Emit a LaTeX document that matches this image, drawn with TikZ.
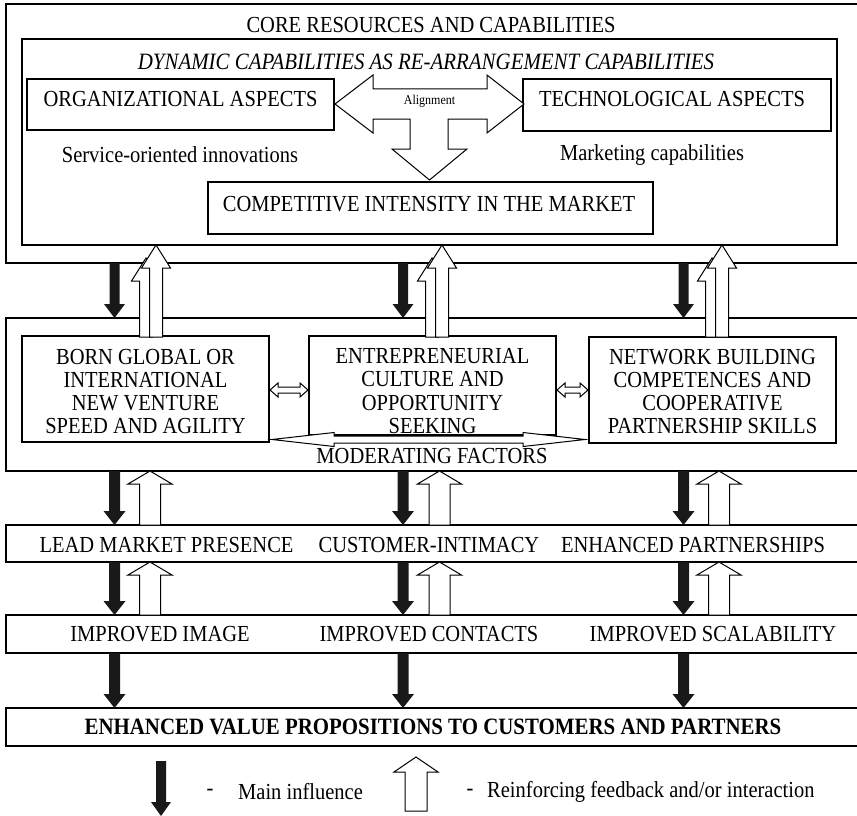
\documentclass[tikz,border=0pt]{standalone}
\usepackage{graphicx}
\usepackage{fontspec}
\setmainfont{Liberation Serif}
\newcommand\tl[1]{\scalebox{1}[1.12]{#1}}
% hollow vertical arrow pointing up: x, ytip, yheadbase, ybottom, shaft half, head half
\newcommand\hollowup[6]{%
  \filldraw[hollow] (#1-#5,#4) -- (#1-#5,#3) -- (#1-#6,#3) -- (#1,#2) -- (#1+#6,#3) -- (#1+#5,#3) -- (#1+#5,#4) -- cycle;}
% solid vertical arrow pointing down: x, ytop, yheadbase, ytip, shaft half, head half
\newcommand\soliddown[6]{%
  \fill[solid] (#1-#5,#2) -- (#1-#5,#3) -- (#1-#6,#3) -- (#1,#4) -- (#1+#6,#3) -- (#1+#5,#3) -- (#1+#5,#2) -- cycle;}
% hollow horizontal double arrow: xleft, xright, y, head length, head half, shaft half
\newcommand\hollowdbl[6]{%
  \filldraw[hollow] (#1,#3) -- (#1+#4,#3-#5) -- (#1+#4,#3-#6) -- (#2-#4,#3-#6) -- (#2-#4,#3-#5) -- (#2,#3) -- (#2-#4,#3+#5) -- (#2-#4,#3+#6) -- (#1+#4,#3+#6) -- (#1+#4,#3+#5) -- cycle;}
\begin{document}
\begin{tikzpicture}[x=1pt,y=-1pt,
  box/.style={draw=black, line width=1.1pt},
  hollow/.style={draw=black, fill=white, line width=1pt, line join=miter},
  solid/.style={fill=black!90},
  txt/.style={font=\fontsize{20.5}{23.3}\selectfont, inner sep=0pt, align=center},
  small/.style={font=\fontsize{12}{14}\selectfont, inner sep=0pt},
 ]
\useasboundingbox (0,0) rectangle (857,816);
\clip (0,0) rectangle (857,816);

% ---------- top block ----------
\draw[box] (6,4) rectangle (880,263);
\node[txt] (core) at (431,25) {\tl{CORE RESOURCES AND CAPABILITIES}};
\draw[box] (22,39) rectangle (837,245);
\node[txt, font=\fontsize{20.9}{23.3}\selectfont\itshape] (dyn) at (426,62) {\tl{DYNAMIC CAPABILITIES AS RE-ARRANGEMENT CAPABILITIES}};
\draw[box] (27,79) rectangle (334,130);
\node[txt] (org) at (180.5,99) {\tl{ORGANIZATIONAL ASPECTS}};
\draw[box] (523,79) rectangle (831,131);
\node[txt] (tech) at (672,99) {\tl{TECHNOLOGICAL ASPECTS}};
% alignment T-arrow
\filldraw[hollow] (335,104) -- (373,75) -- (373,89) -- (487,89) -- (487,75) -- (524,104)
  -- (487,133) -- (487,119) -- (448,119) -- (448,149) -- (467,149) -- (429.5,180)
  -- (392,149) -- (410,149) -- (410,119) -- (373,119) -- (373,133) -- cycle;
\node[small] (align) at (429.5,101) {\tl{Alignment}};
\node[txt] (serv) at (180,155) {\tl{Service-oriented innovations}};
\node[txt] (mark) at (652,155) {\tl{Marketing capabilities}};
\draw[box] (208,182) rectangle (653,234);
\node[txt] (comp) at (429,204) {\tl{COMPETITIVE INTENSITY IN THE MARKET}};

% ---------- second block ----------
\draw[box] (6,318) rectangle (880,471);
\draw[box] (22,336) rectangle (269,442);
\draw[box] (309,336) rectangle (556,435);
\draw[box] (589,337) rectangle (836,443);
\hollowdbl{270}{308}{390}{8}{7}{3}
\hollowdbl{557}{588}{390}{8}{7}{3}
\hollowdbl{272}{585}{439.5}{62}{7}{3.5}
\node[txt] (born) at (145.5,391.5) {\tl{BORN GLOBAL OR}\\\tl{INTERNATIONAL}\\\tl{NEW VENTURE}\\\tl{SPEED AND AGILITY}};
\node[txt] (entre) at (432.5,391) {\tl{ENTREPRENEURIAL}\\\tl{CULTURE AND}\\\tl{OPPORTUNITY}\\\tl{SEEKING}};
\node[txt] (net) at (712.5,391.5) {\tl{NETWORK BUILDING}\\\tl{COMPETENCES AND}\\\tl{COOPERATIVE}\\\tl{PARTNERSHIP SKILLS}};
\node[txt] (mod) at (432,456) {\tl{MODERATING FACTORS}};

% ---------- rows ----------
\draw[box] (6,525) rectangle (880,562);
\node[txt] (lead) at (166.5,545) {\tl{LEAD MARKET PRESENCE}};
\node[txt] (cust) at (429,545) {\tl{CUSTOMER-INTIMACY}};
\node[txt] (enh) at (693,545) {\tl{ENHANCED PARTNERSHIPS}};
\draw[box] (6,615) rectangle (880,653);
\node[txt] (img) at (160,634) {\tl{IMPROVED IMAGE}};
\node[txt] (cont) at (429,634) {\tl{IMPROVED CONTACTS}};
\node[txt] (scal) at (713,634) {\tl{IMPROVED SCALABILITY}};
\draw[box] (6,708) rectangle (880,746);
\node[txt, font=\fontsize{20.9}{23.3}\selectfont\bfseries] (val) at (433,727) {\tl{ENHANCED VALUE PROPOSITIONS TO CUSTOMERS AND PARTNERS}};

% ---------- main influence arrows ----------
\foreach \cx in {114.5,403,683.5}{
  \soliddown{\cx}{263}{304}{318}{5}{10.5}
  \soliddown{\cx}{471}{511}{525}{5.5}{11}
  \soliddown{\cx}{562}{601}{615}{5.5}{11}
  \soliddown{\cx}{653}{694}{708}{5.5}{11}
}
% ---------- feedback arrows top (doubled) ----------
\foreach \cx in {156,442,722}{
  \hollowup{\cx-10}{258}{281}{337}{6.5}{14.5}
  \hollowup{\cx}{245}{268}{337}{6.5}{14.5}
}
% ---------- feedback arrows lower ----------
\foreach \cx in {150,439.5,719}{
  \hollowup{\cx}{471}{484}{525}{10.5}{22}
  \hollowup{\cx}{562}{575}{615}{10.5}{22}
}

% ---------- legend ----------
\soliddown{161}{761}{802}{816}{5}{10}
\node[txt] (d1) at (210,792) {\tl{-}};
\node[txt, anchor=west] (l1) at (238,792) {\tl{Main influence}};
\hollowup{416}{757}{772}{811}{11}{22}
\node[txt] (d2) at (470,792) {\tl{-}};
\node[txt, anchor=west] (l2) at (487,792) {\tl{Reinforcing feedback and/or interaction}};
\end{tikzpicture}
\end{document}
